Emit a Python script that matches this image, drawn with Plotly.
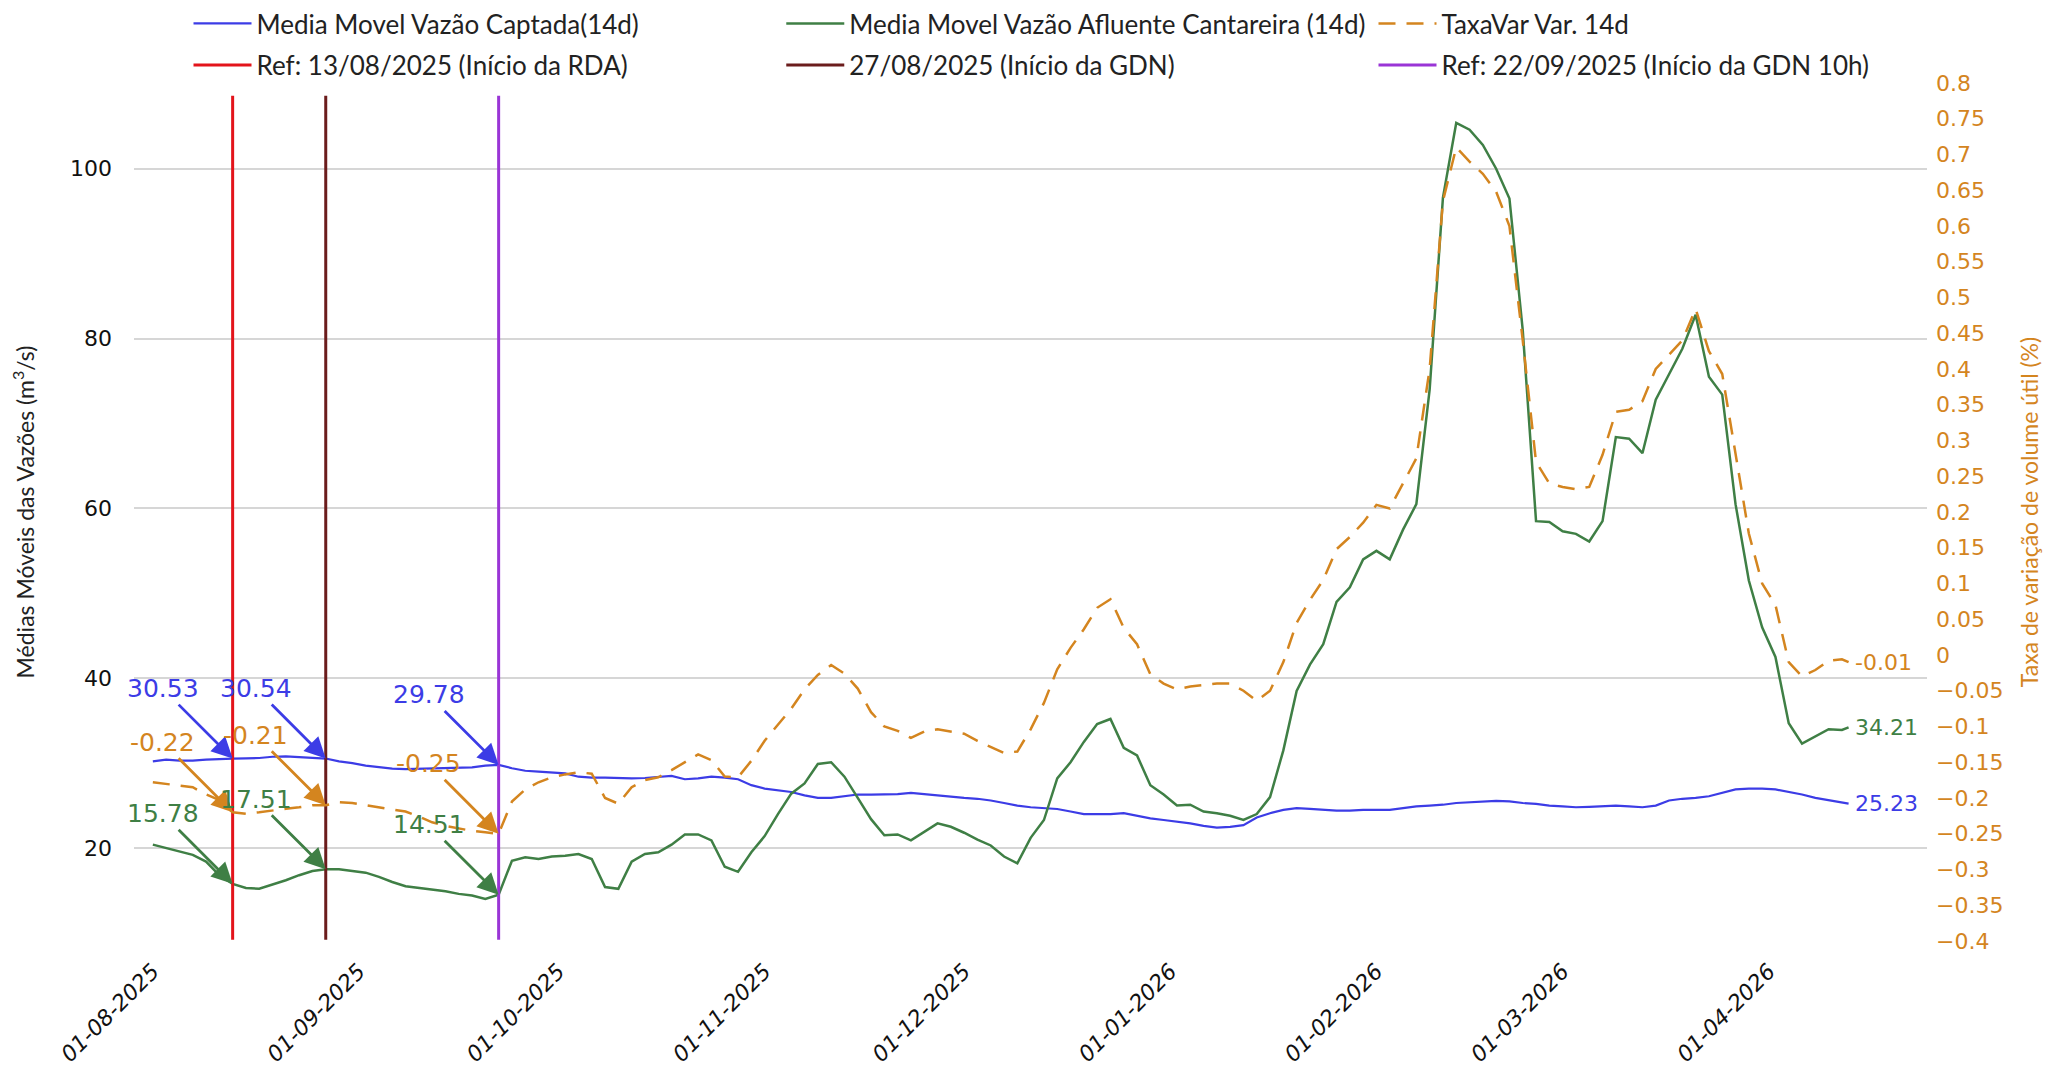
import pandas as pd
import plotly.graph_objects as go

# ---------------- data ----------------
dates = list(pd.date_range("2025-08-01", "2026-04-12", freq="2D").strftime("%Y-%m-%d")) + ["2026-04-13"]

captada = [
    30.2, 30.4, 30.3, 30.3, 30.4, 30.5, 30.53, 30.55, 30.6, 30.75,
    30.8, 30.7, 30.6, 30.54, 30.2, 30.0, 29.7, 29.5, 29.35, 29.3,
    29.35, 29.4, 29.4, 29.45, 29.5, 29.7, 29.78, 29.4, 29.1, 29.0,
    28.9, 28.8, 28.4, 28.3, 28.3, 28.25, 28.2, 28.25, 28.4, 28.5,
    28.1, 28.2, 28.4, 28.3, 28.1, 27.4, 27.0, 26.8, 26.6, 26.2,
    25.9, 25.9, 26.1, 26.3, 26.3, 26.3, 26.35, 26.5, 26.35, 26.2,
    26.0, 25.9, 25.8, 25.6, 25.3, 25.0, 24.8, 24.7, 24.6, 24.3,
    24.0, 24.0, 24.0, 24.1, 23.8, 23.5, 23.3, 23.1, 22.9, 22.6,
    22.4, 22.5, 22.7, 23.6, 24.1, 24.5, 24.7, 24.6, 24.5, 24.4,
    24.4, 24.5, 24.5, 24.5, 24.7, 24.9, 25.0, 25.1, 25.3, 25.4,
    25.5, 25.55, 25.5, 25.3, 25.2, 25.0, 24.9, 24.8, 24.85, 24.9,
    25.0, 24.9, 24.8, 25.0, 25.6, 25.8, 25.9, 26.1, 26.5, 26.9,
    27.0, 27.0, 26.9, 26.6, 26.3, 25.9, 25.6, 25.35, 25.23,
]

afluente = [
    20.4, 20.0, 19.6, 19.2, 18.4, 16.8, 15.78, 15.3, 15.2, 15.7,
    16.2, 16.8, 17.3, 17.51, 17.5, 17.3, 17.1, 16.6, 16.0, 15.5,
    15.3, 15.1, 14.9, 14.6, 14.4, 14.0, 14.51, 18.5, 18.9, 18.7,
    19.0, 19.1, 19.3, 18.7, 15.4, 15.2, 18.4, 19.3, 19.5, 20.4,
    21.6, 21.6, 20.9, 17.8, 17.2, 19.5, 21.4, 24.0, 26.4, 27.6,
    29.9, 30.1, 28.4, 25.9, 23.4, 21.5, 21.6, 20.9, 21.9, 22.9,
    22.5, 21.8, 21.0, 20.3, 19.0, 18.2, 21.2, 23.3, 28.2, 30.1,
    32.5, 34.6, 35.2, 31.8, 30.9, 27.4, 26.3, 25.0, 25.1, 24.3,
    24.1, 23.8, 23.3, 24.0, 26.0, 31.5, 38.5, 41.6, 44.0, 49.0,
    50.7, 54.0, 55.0, 54.0, 57.5, 60.5, 74.0, 96.6, 105.4, 104.6,
    102.8, 100.0, 96.5, 81.0, 58.5, 58.4, 57.3, 57.0, 56.1, 58.5,
    68.4, 68.2, 66.5, 72.8, 75.8, 78.8, 82.8, 75.5, 73.4, 60.5,
    51.5, 46.0, 42.5, 34.7, 32.3, 33.2, 34.0, 33.9, 34.21,
]

taxavar = [
    -0.178, -0.18, -0.182, -0.185, -0.195, -0.203, -0.22, -0.222, -0.22, -0.217,
    -0.215, -0.213, -0.21, -0.21, -0.206, -0.207, -0.21, -0.212, -0.215, -0.219,
    -0.226, -0.234, -0.239, -0.243, -0.246, -0.248, -0.25, -0.205, -0.188, -0.178,
    -0.171, -0.167, -0.164, -0.166, -0.2, -0.208, -0.185, -0.175, -0.171, -0.161,
    -0.15, -0.139, -0.147, -0.17, -0.171, -0.148, -0.12, -0.098, -0.075, -0.048,
    -0.028, -0.014, -0.026, -0.047, -0.08, -0.1, -0.106, -0.116, -0.107, -0.104,
    -0.107, -0.11, -0.12, -0.128, -0.137, -0.135, -0.104, -0.067, -0.02, 0.01,
    0.036, 0.066, 0.078, 0.038, 0.015, -0.027, -0.04, -0.048, -0.044, -0.042,
    -0.04, -0.04, -0.05, -0.064, -0.05, -0.01, 0.045, 0.077, 0.105, 0.148,
    0.165, 0.185, 0.21, 0.205, 0.24, 0.275, 0.40, 0.635, 0.71, 0.69,
    0.673, 0.648, 0.60, 0.44, 0.27, 0.24, 0.235, 0.232, 0.235, 0.28,
    0.34, 0.343, 0.355, 0.40, 0.42, 0.44, 0.484, 0.425, 0.393, 0.28,
    0.17, 0.10, 0.07, -0.01, -0.03, -0.021, -0.008, -0.006, -0.01,
]

ref_dates = ["2025-08-13", "2025-08-27", "2025-09-22"]
ref_names = ["Ref: 13/08/2025 (Início da RDA)", "27/08/2025 (Início da GDN)",
             "Ref: 22/09/2025 (Início da GDN 10h)"]
ref_captada = [30.53, 30.54, 29.78]
ref_afluente = [15.78, 17.51, 14.51]
ref_taxavar = [-0.22, -0.21, -0.25]
ref_line_span = [9.2, 108.6]   # vertical extent of reference lines (left-axis units)

y1_ticks = [20, 40, 60, 80, 100]
y1_range = [9.05, 110.1]
y2_range = [-0.4, 0.8]
x_range = ["2025-07-29 04:00", "2026-04-24 19:00"]

# ---------------- style ----------------
BLUE = "#3c3ce6"
GREEN = "#3f7f45"
ORANGE = "#d4851f"
REF_COLORS = ["#e3141b", "#6b1c1c", "#9a35d6"]
TXT_FONT = "Lato"
NUM_FONT = "DejaVu Sans"

series_names = ["Media Movel Vazão Captada(14d)", "Media Movel Vazão Afluente Cantareira (14d)",
                "TaxaVar Var. 14d"]
legend_ids = ["legend", "legend2", "legend3", "legend4", "legend5", "legend6"]

fig = go.Figure()
fig.add_trace(go.Scatter(x=dates, y=captada, mode="lines", name=series_names[0], legend=legend_ids[0],
                         line=dict(color=BLUE, width=2.2)))
fig.add_trace(go.Scatter(x=dates, y=afluente, mode="lines", name=series_names[1], legend=legend_ids[1],
                         line=dict(color=GREEN, width=2.5)))
fig.add_trace(go.Scatter(x=dates, y=taxavar, mode="lines", name=series_names[2], yaxis="y2",
                         legend=legend_ids[2], line=dict(color=ORANGE, width=2.5, dash="17px,11px")))
for i, (d, n, c) in enumerate(zip(ref_dates, ref_names, REF_COLORS)):
    fig.add_trace(go.Scatter(x=[d, d], y=ref_line_span, mode="lines", name=n, legend=legend_ids[3 + i],
                             line=dict(color=c, width=3)))

ann = []
for d, vb, vg, vo in zip(ref_dates, ref_captada, ref_afluente, ref_taxavar):
    for v, col, yref in ((vb, BLUE, "y"), (vo, ORANGE, "y2"), (vg, GREEN, "y")):
        ann.append(dict(x=d, y=v, xref="x", yref=yref, text=f"{v:.2f}", showarrow=True,
                        ax=-70, ay=-70, arrowhead=2, arrowsize=1.5, arrowwidth=2.8,
                        arrowcolor=col, font=dict(family=NUM_FONT, size=25, color=col)))
# end labels
for v, col, yref in ((captada[-1], BLUE, "y"), (afluente[-1], GREEN, "y"), (taxavar[-1], ORANGE, "y2")):
    ann.append(dict(x=dates[-1], y=v, xref="x", yref=yref, text=f"{v:.2f}", showarrow=False,
                    xanchor="left", xshift=4, font=dict(family=NUM_FONT, size=22, color=col)))

# legend placement (paper coords): 3 columns x 2 rows
col_x = [0.0304, 0.361, 0.6913]
row_y = [1.0693, 1.021]
legends = {}
for i, lid in enumerate(legend_ids):
    legends[lid] = dict(orientation="h", xref="paper", yref="paper", x=col_x[i % 3], y=row_y[i // 3],
                        xanchor="left", yanchor="middle", itemwidth=58, bgcolor="rgba(0,0,0,0)",
                        font=dict(family=TXT_FONT, size=26, color="#222"))

fig.update_layout(
    width=2051, height=1073,
    margin=dict(l=126, r=132, t=75, b=140, autoexpand=False),
    plot_bgcolor="white", paper_bgcolor="white",
    font=dict(family=TXT_FONT, size=22, color="#222"),
    showlegend=True,
    annotations=ann,
    xaxis=dict(type="date", range=x_range, tickformat="%d-%m-%Y", dtick="M1", tick0="2025-08-01",
               tickangle=-45, showgrid=False, zeroline=False, showline=False,
               ticklabelstandoff=12,
               tickfont=dict(family="DejaVu Sans, sans-serif", size=22, color="#111", style="italic")),
    yaxis=dict(range=y1_range, tickvals=y1_ticks, showgrid=True, gridcolor="#d6d6d6", gridwidth=1.5,
               zeroline=False, showline=False, ticklabelstandoff=21,
               tickfont=dict(family=NUM_FONT, size=22, color="#111"),
               title=dict(text="Médias Móveis das Vazões (m<sup>3</sup>/s)", standoff=38,
                          font=dict(family=TXT_FONT, size=23, color="#222"))),
    yaxis2=dict(range=y2_range, dtick=0.05, tick0=0, overlaying="y", side="right", showgrid=False,
                zeroline=False, showline=False, ticklabelstandoff=8,
                tickfont=dict(family=NUM_FONT, size=22, color=ORANGE),
                title=dict(text="Taxa de variação de volume útil (%)", standoff=19,
                           font=dict(family=TXT_FONT, size=23, color=ORANGE))),
)
fig.update_layout(**legends)

fig.write_html("out.html")
